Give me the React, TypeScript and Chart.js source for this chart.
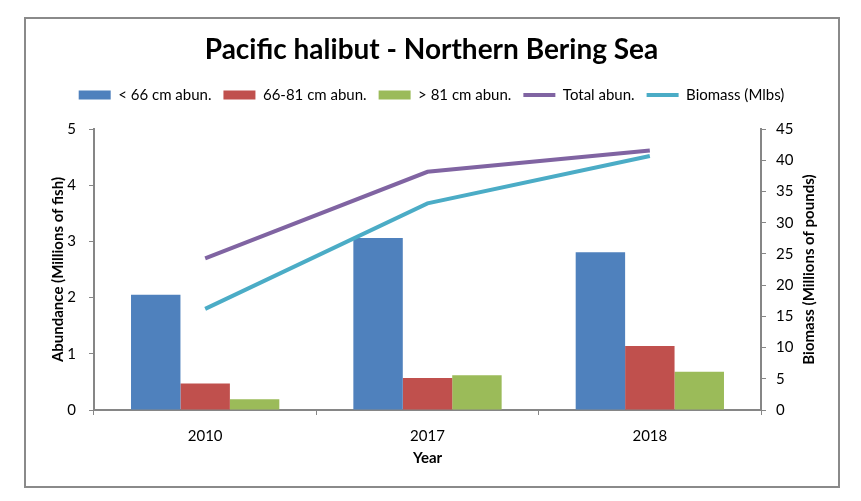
import React, { useEffect, useRef } from "react";
import { Chart, registerables } from "chart.js";

Chart.register(...registerables);

const categories = ["2010", "2017", "2018"];
const under66 = [2.05, 3.06, 2.81];
const from66to81 = [0.47, 0.57, 1.14];
const over81 = [0.19, 0.62, 0.68];
const totalAbun = [2.7, 4.24, 4.62];
const biomass = [16.2, 33.1, 40.7];

const seriesLabels = ["< 66 cm abun.", "66-81 cm abun.", "> 81 cm abun.", "Total abun.", "Biomass (Mlbs)"];
const colors = ["#4F81BD", "#C0504D", "#9BBB59", "#8064A2", "#4BACC6"];

const FONT = "Lato, 'Noto Sans', sans-serif";
const AXIS = "#868686";

export default function App() {
  const ref = useRef<HTMLCanvasElement | null>(null);

  useEffect(() => {
    if (!ref.current) return;
    const framePlugin = {
      id: "frame",
      beforeDraw(chart: any) {
        const ctx = chart.ctx;
        ctx.save();
        ctx.fillStyle = "#ffffff";
        ctx.fillRect(0, 0, chart.width, chart.height);
        ctx.strokeStyle = "#8a8a8a";
        ctx.lineWidth = 2;
        ctx.strokeRect(25, 18, 814, 469);
        ctx.restore();
      },
      afterDraw(chart: any) {
        const s = chart.scales.y1;
        const ctx = chart.ctx;
        ctx.save();
        ctx.translate(s.right - 30, (chart.chartArea.top + chart.chartArea.bottom) / 2);
        ctx.rotate(-Math.PI / 2);
        ctx.font = `bold 15px ${FONT}`;
        ctx.fillStyle = "#000";
        ctx.textAlign = "center";
        ctx.textBaseline = "middle";
        ctx.fillText("Biomass (Millions of pounds)", 0, 0);
        ctx.restore();
      },
    };

    const defaultGen = (Chart as any).defaults.plugins.legend.labels.generateLabels;

    const chart = new Chart(ref.current, {
      type: "bar",
      data: {
        labels: categories,
        datasets: [
          { type: "bar", label: seriesLabels[0], data: under66, backgroundColor: colors[0], borderWidth: 0, yAxisID: "y", order: 2 },
          { type: "bar", label: seriesLabels[1], data: from66to81, backgroundColor: colors[1], borderWidth: 0, yAxisID: "y", order: 2 },
          { type: "bar", label: seriesLabels[2], data: over81, backgroundColor: colors[2], borderWidth: 0, yAxisID: "y", order: 2 },
          { type: "line", label: seriesLabels[3], data: totalAbun, borderColor: colors[3], backgroundColor: colors[3], borderWidth: 4, pointRadius: 0, tension: 0, yAxisID: "y", order: 1 },
          { type: "line", label: seriesLabels[4], data: biomass, borderColor: colors[4], backgroundColor: colors[4], borderWidth: 4, pointRadius: 0, tension: 0, yAxisID: "y1", order: 1 },
        ] as any,
      },
      options: {
        responsive: false,
        animation: false,
        devicePixelRatio: 1,
        categoryPercentage: 0.667,
        barPercentage: 1,
        layout: { padding: { left: 24, right: 22, top: 17, bottom: 14 } },
        plugins: {
          tooltip: { enabled: false },
          title: {
            display: true,
            text: "Pacific halibut - Northern Bering Sea",
            color: "#000",
            font: { family: FONT, size: 28, weight: "bold", lineHeight: 1.2 },
            padding: { top: 16, bottom: 9 },
          },
          subtitle: {
            display: true,
            text: "",
            weight: 500,
            font: { size: 1, lineHeight: 1 },
            padding: { top: 8, bottom: 7.5 },
          } as any,
          legend: {
            display: true,
            position: "top",
            labels: {
              color: "#000",
              font: { family: FONT, size: 15 },
              usePointStyle: true,
              pointStyleWidth: 32,
              boxHeight: 9,
              padding: 12,
              sort: (a: any, b: any) => a.datasetIndex - b.datasetIndex,
              generateLabels: (chart: any) => {
                const items = defaultGen(chart);
                return items.map((it: any) => {
                  const isLine = it.datasetIndex >= 3;
                  return {
                    ...it,
                    pointStyle: isLine ? "line" : "rect",
                    lineWidth: isLine ? 4 : 0,
                    fillStyle: colors[it.datasetIndex],
                    strokeStyle: colors[it.datasetIndex],
                  };
                });
              },
            },
          } as any,
        },
        scales: {
          x: {
            offset: true,
            grid: { display: true, drawOnChartArea: false, drawTicks: true, tickLength: 5, color: AXIS, offset: true },
            border: { display: true, color: AXIS, width: 2 },
            ticks: { color: "#000", font: { family: FONT, size: 15 }, padding: 12 },
            title: {
              display: true,
              text: "Year",
              color: "#000",
              font: { family: FONT, size: 15, weight: "bold", lineHeight: 1.2 },
              padding: { top: 0, bottom: 20 },
            },
            afterFit: (s: any) => { s.width = s.width; s.height = 77; },
          },
          y: {
            position: "left",
            min: 0,
            max: 5,
            ticks: { stepSize: 1, color: "#000", font: { family: FONT, size: 15 }, padding: 13 },
            grid: { display: true, drawOnChartArea: false, drawTicks: true, tickLength: 5, color: AXIS },
            border: { display: true, color: AXIS, width: 2 },
            title: {
              display: true,
              text: "Abundance (Millions of fish)",
              color: "#000",
              font: { family: FONT, size: 15, weight: "bold", lineHeight: 1.2 },
              padding: { top: 25, bottom: 0 },
            },
            afterFit: (s: any) => { s.width = 70; },
          },
          y1: {
            position: "right",
            min: 0,
            max: 45,
            ticks: { stepSize: 5, color: "#000", font: { family: FONT, size: 15 }, padding: 10 },
            grid: { display: true, drawOnChartArea: false, drawTicks: true, tickLength: 5, color: AXIS },
            border: { display: true, color: AXIS, width: 2 },
            afterFit: (s: any) => { s.width = 78; },
          },
        },
      } as any,
      plugins: [framePlugin],
    });
    return () => chart.destroy();
  }, []);

  return (
    <div style={{ position: "absolute", left: 0, top: 0, width: 861, height: 501, background: "#fff" }}>
      <canvas ref={ref} width={861} height={501} />
    </div>
  );
}
